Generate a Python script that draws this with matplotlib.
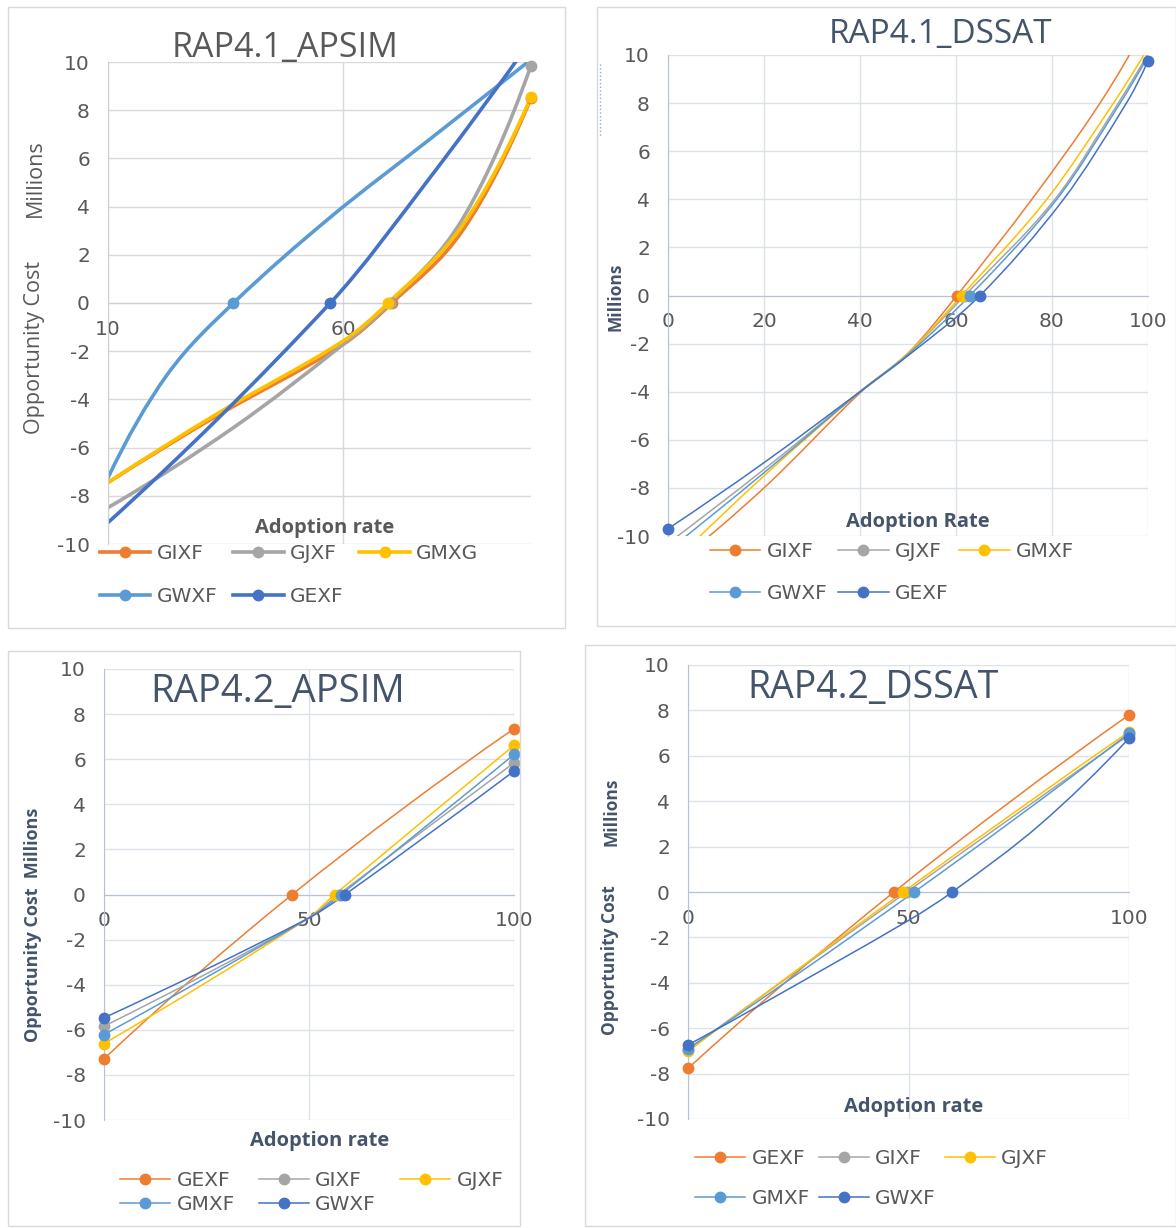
import numpy as np
import matplotlib
matplotlib.use("Agg")
import matplotlib.pyplot as plt
from matplotlib.path import Path
from matplotlib.patches import PathPatch, Rectangle
from matplotlib.lines import Line2D

plt.rcParams['axes.unicode_minus'] = False

# -----------------------------------------
# Data
# -----------------------------------------
ORANGE, GRAY, YELLOW, LBLUE, DBLUE = '#ED7D31', '#A5A5A5', '#FFC000', '#5B9BD5', '#4472C4'

# RAP4.1_APSIM  (x axis starts at 10)
p1_names = ["GIXF", "GJXF", "GMXG", "GWXF", "GEXF"]
p1_gixf_x = [10, 33, 60, 70.4, 85.6, 100]
p1_gixf_y = [-7.45, -4.7, -1.72, 0, 3.05, 8.5]
p1_gjxf_x = [10, 36.7, 60, 70, 85.6, 100]
p1_gjxf_y = [-8.49, -5.17, -1.72, 0, 3.54, 9.85]
p1_gmxg_x = [10, 33, 60, 69.6, 85.6, 100]
p1_gmxg_y = [-7.45, -4.62, -1.58, 0, 3.27, 8.55]
p1_gwxf_x = [10, 22.5, 36.7, 57.2, 78.5, 100]
p1_gwxf_y = [-7.25, -3.0, 0, 3.54, 6.8, 10.1]
p1_gexf_x = [10, 57.3, 78.5, 100]
p1_gexf_y = [-9.11, 0, 5.2, 10.9]
p1_marks = [[3, 5], [3, 5], [3, 5], [2], [1]]

# RAP4.1_DSSAT
p2_names = ["GIXF", "GJXF", "GMXF", "GWXF", "GEXF"]
p2_gixf_x = [0, 20, 40, 50, 60.2, 75.8, 90, 100]
p2_gixf_y = [-11.4, -8.0, -4.05, -2.4, 0, 4, 8, 11.4]
p2_gjxf_x = [0, 20, 40, 50, 61.8, 80.6, 93.8, 100]
p2_gjxf_y = [-10.3, -7.23, -4.0, -2.4, 0, 4, 8, 10.05]
p2_gmxf_x = [0, 20, 40, 50, 61.2, 78.9, 92.8, 100]
p2_gmxf_y = [-11.3, -7.5, -4.0, -2.4, 0, 4, 8, 10.3]
p2_gwxf_x = [0, 20, 40, 50, 62.9, 81.0, 94.2, 100]
p2_gwxf_y = [-10.6, -7.37, -4.0, -2.45, 0, 4, 8, 9.95]
p2_gexf_x = [0, 20, 40, 50, 65.0, 82.4, 95.5, 100]
p2_gexf_y = [-9.7, -6.95, -4.0, -2.5, 0, 4, 8, 9.76]
p2_marks = [[4], [4], [4], [4], [0, 4, 7]]

# RAP4.2_APSIM
p3_names = ["GEXF", "GIXF", "GJXF", "GMXF", "GWXF"]
p3_gexf_x = [0, 45.9, 100]
p3_gexf_y = [-7.29, 0, 7.35]
p3_gixf_x = [0, 49.4, 57.2, 100]
p3_gixf_y = [-5.84, -1.1, 0, 5.84]
p3_gjxf_x = [0, 49.4, 56.3, 100]
p3_gjxf_y = [-6.61, -1.1, 0, 6.61]
p3_gmxf_x = [0, 49.4, 57.8, 100]
p3_gmxf_y = [-6.21, -1.1, 0, 6.21]
p3_gwxf_x = [0, 49.4, 58.8, 100]
p3_gwxf_y = [-5.47, -1.1, 0, 5.47]
p3_marks = [[0, 1, 2], [0, 2, 3], [0, 2, 3], [0, 2, 3], [0, 2, 3]]

# RAP4.2_DSSAT
p4_names = ["GEXF", "GIXF", "GJXF", "GMXF", "GWXF"]
p4_gexf_x = [0, 46.7, 100]
p4_gexf_y = [-7.77, 0, 7.8]
p4_gixf_x = [0, 49.6, 100]
p4_gixf_y = [-6.95, 0, 6.92]
p4_gjxf_x = [0, 48.8, 100]
p4_gjxf_y = [-7.02, 0, 7.06]
p4_gmxf_x = [0, 51.3, 100]
p4_gmxf_y = [-6.9, 0, 6.99]
p4_gwxf_x = [0, 17.1, 50.2, 59.9, 80, 100]
p4_gwxf_y = [-6.74, -4.9, -1.23, 0, 3.0, 6.77]
p4_marks = [[0, 1, 2], [0, 1, 2], [0, 1, 2], [0, 1, 2], [0, 3, 5]]

# -----------------------------------------
# Helpers
# -----------------------------------------
W, H = 1176, 1228
fig = plt.figure(figsize=(W / 100, H / 100), dpi=100)
fig.patch.set_facecolor('white')


def px_axes(x0, y0, x1, y1):
    return fig.add_axes([x0 / W, 1 - y1 / H, (x1 - x0) / W, (y1 - y0) / H])


def frame(x0, y0, x1, y1):
    fig.add_artist(Rectangle((x0 / W, 1 - y1 / H), (x1 - x0) / W, (y1 - y0) / H,
                             transform=fig.transFigure, fill=False,
                             edgecolor='#D9D9D9', lw=1))


def ftext(x, y, s, **kw):
    fig.text(x / W, 1 - y / H, s, **kw)


def smooth_path(xs, ys):
    # smoothed line like Excel's: Catmull-Rom as cubic Bezier,
    # tangents weighted by segment width so short segments don't overshoot,
    # end segments bend like a parabola instead of starting straight
    pts = np.column_stack([xs, ys]).astype(float)
    n = len(pts)

    def inner(i):
        # control offset at interior point i, scaled for the segment i -> i+1 / i-1 -> i
        return pts[i + 1] - pts[i - 1], pts[i + 1][0] - pts[i - 1][0]

    verts, codes = [pts[0]], [Path.MOVETO]
    for i in range(n - 1):
        p1, p2 = pts[i], pts[i + 1]
        d12 = p2[0] - p1[0]
        t1 = t2 = None
        if i > 0:
            v, d = inner(i)
            t1 = v * d12 / d / 3
        if i < n - 2:
            v, d = inner(i + 1)
            t2 = v * d12 / d / 3
        if t1 is None and t2 is None:
            t1 = t2 = (p2 - p1) / 3
        elif t1 is None:
            t1 = (p2 - p1) * 2 / 3 - t2
        elif t2 is None:
            t2 = (p2 - p1) * 2 / 3 - t1
        verts += [p1 + t1, p2 - t2, p2]
        codes += [Path.CURVE4] * 3
    return Path(verts, codes)


def style(ax, xlim, xticks, grid_c, axis_c):
    ax.set_xlim(*xlim)
    ax.set_ylim(-10, 10)
    ax.set_xticks(xticks)
    ax.set_yticks(range(-10, 11, 2))
    ax.grid(True, color=grid_c, lw=1)
    ax.set_axisbelow(True)
    for s in ['top', 'right']:
        ax.spines[s].set_visible(False)
    ax.spines['bottom'].set_position(('data', 0))
    ax.spines['bottom'].set_color(axis_c)
    ax.spines['left'].set_color(axis_c)
    ax.tick_params(length=0, labelsize=14.5, labelcolor='#595959')
    ax.tick_params(axis='x', pad=12)
    ax.tick_params(axis='y', pad=13)
    ax.patch.set_alpha(0)


def draw(ax, series, colors, lw, ms):
    handles = []
    for (xs, ys, marks), c in zip(series, colors):
        ax.add_patch(PathPatch(smooth_path(xs, ys), fill=False, edgecolor=c,
                               lw=lw, capstyle='round', joinstyle='round'))
        ax.plot([xs[i] for i in marks], [ys[i] for i in marks], 'o', color=c,
                ms=ms, clip_on=False, zorder=3)
        handles.append(Line2D([0], [0], color=c, lw=lw, marker='o', ms=ms))
    return handles


def legend(ax, handles, names, x, y, colsp, rowsp):
    order = [0, 3, 1, 4, 2]  # Excel fills legend rows first
    ax.legend([handles[i] for i in order], [names[i] for i in order],
              loc='upper left', bbox_to_anchor=(x / W, 1 - y / H),
              bbox_transform=fig.transFigure, ncol=3, frameon=False,
              borderpad=0, borderaxespad=0, handlelength=2.5,
              handletextpad=0.3, columnspacing=colsp, labelspacing=rowsp,
              fontsize=14.5, labelcolor='#595959')


GRID1, AXIS1 = '#D9D9D9', '#D0D0D0'
GRID2, AXIS2 = '#DCE1EA', '#B8C2D6'
TXT, SLATE = '#595959', '#44546A'

# -----------------------------------------
# Panel 1: RAP4.1_APSIM
# -----------------------------------------
frame(8, 7, 565, 628)
ax1 = px_axes(108, 62, 531, 544)
style(ax1, (10, 100), [10, 60], GRID1, AXIS1)
h = draw(ax1, [(p1_gixf_x, p1_gixf_y, p1_marks[0]), (p1_gjxf_x, p1_gjxf_y, p1_marks[1]),
               (p1_gmxg_x, p1_gmxg_y, p1_marks[2]), (p1_gwxf_x, p1_gwxf_y, p1_marks[3]),
               (p1_gexf_x, p1_gexf_y, p1_marks[4])],
         [ORANGE, GRAY, YELLOW, LBLUE, DBLUE], 2.6, 7.5)
legend(ax1, h, p1_names, 100, 544, 0.8, 1.2)
ftext(285, 48, "RAP4.1_APSIM", ha='center', va='center', fontsize=24.5,
      family='Open Sans', color=TXT)
ftext(35, 178, "Millions", ha='center', va='center', rotation=90, fontsize=15.5,
      family='Open Sans', color=TXT)
ftext(35, 347, "Opportunity Cost", ha='center', va='center', rotation=90,
      fontsize=15.5, family='Open Sans', color=TXT)
ftext(325, 528, "Adoption rate", ha='center', va='center', fontsize=14.5,
      family='Open Sans', weight='bold', color=TXT)

# -----------------------------------------
# Panel 2: RAP4.1_DSSAT
# -----------------------------------------
frame(597, 7, 1176, 626)
ax2 = px_axes(668, 55, 1148, 536)
style(ax2, (0, 100), range(0, 101, 20), GRID2, AXIS2)
h = draw(ax2, [(p2_gixf_x, p2_gixf_y, p2_marks[0]), (p2_gjxf_x, p2_gjxf_y, p2_marks[1]),
               (p2_gmxf_x, p2_gmxf_y, p2_marks[2]), (p2_gwxf_x, p2_gwxf_y, p2_marks[3]),
               (p2_gexf_x, p2_gexf_y, p2_marks[4])],
         [ORANGE, GRAY, YELLOW, LBLUE, DBLUE], 1.1, 7.5)
legend(ax2, h, p2_names, 710, 542, 0.55, 1.15)
ftext(941, 34, "RAP4.1_DSSAT", ha='center', va='center', fontsize=24,
      family='Open Sans', color=SLATE)
ftext(616, 297, "Millions", ha='center', va='center', rotation=90, fontsize=12.5,
      family='Open Sans', weight='bold', color=SLATE)
ftext(918, 522, "Adoption Rate", ha='center', va='center', fontsize=14.5,
      family='Open Sans', weight='bold', color=SLATE)
fig.add_artist(Line2D([600 / W, 600 / W], [1 - 64 / H, 1 - 136 / H], ls=':',
                      color='#8EA9DB', lw=1))

# -----------------------------------------
# Panel 3: RAP4.2_APSIM
# -----------------------------------------
frame(8, 651, 520, 1226)
ax3 = px_axes(104, 669, 514, 1120)
style(ax3, (0, 100), [0, 50, 100], GRID2, AXIS2)
h = draw(ax3, [(p3_gexf_x, p3_gexf_y, p3_marks[0]), (p3_gixf_x, p3_gixf_y, p3_marks[1]),
               (p3_gjxf_x, p3_gjxf_y, p3_marks[2]), (p3_gmxf_x, p3_gmxf_y, p3_marks[3]),
               (p3_gwxf_x, p3_gwxf_y, p3_marks[4])],
         [ORANGE, GRAY, YELLOW, LBLUE, DBLUE], 1.1, 7.5)
legend(ax3, h, p3_names, 120, 1171, 1.2, 0.25)
ftext(278, 692, "RAP4.2_APSIM", ha='center', va='center', fontsize=27.5,
      family='Open Sans', color=SLATE)
ftext(33, 925, "Opportunity Cost  Millions", ha='center', va='center',
      rotation=90, fontsize=13, family='Open Sans', weight='bold', color=SLATE)
ftext(320, 1141, "Adoption rate", ha='center', va='center', fontsize=14.5,
      family='Open Sans', weight='bold', color=SLATE)

# -----------------------------------------
# Panel 4: RAP4.2_DSSAT
# -----------------------------------------
frame(585, 645, 1176, 1226)
ax4 = px_axes(688, 665, 1129, 1119)
style(ax4, (0, 100), [0, 50, 100], GRID2, AXIS2)
h = draw(ax4, [(p4_gexf_x, p4_gexf_y, p4_marks[0]), (p4_gixf_x, p4_gixf_y, p4_marks[1]),
               (p4_gjxf_x, p4_gjxf_y, p4_marks[2]), (p4_gmxf_x, p4_gmxf_y, p4_marks[3]),
               (p4_gwxf_x, p4_gwxf_y, p4_marks[4])],
         [ORANGE, GRAY, YELLOW, LBLUE, DBLUE], 1.1, 7.5)
legend(ax4, h, p4_names, 695, 1149, 0.45, 1.05)
ftext(873, 688, "RAP4.2_DSSAT", ha='center', va='center', fontsize=27,
      family='Open Sans', color=SLATE)
ftext(612, 812, "Millions", ha='center', va='center', rotation=90, fontsize=12.5,
      family='Open Sans', weight='bold', color=SLATE)
ftext(610, 960, "Opportunity Cost", ha='center', va='center', rotation=90,
      fontsize=12.5, family='Open Sans', weight='bold', color=SLATE)
ftext(914, 1107, "Adoption rate", ha='center', va='center', fontsize=14.5,
      family='Open Sans', weight='bold', color=SLATE)

fig.savefig("out.png", dpi=100)
